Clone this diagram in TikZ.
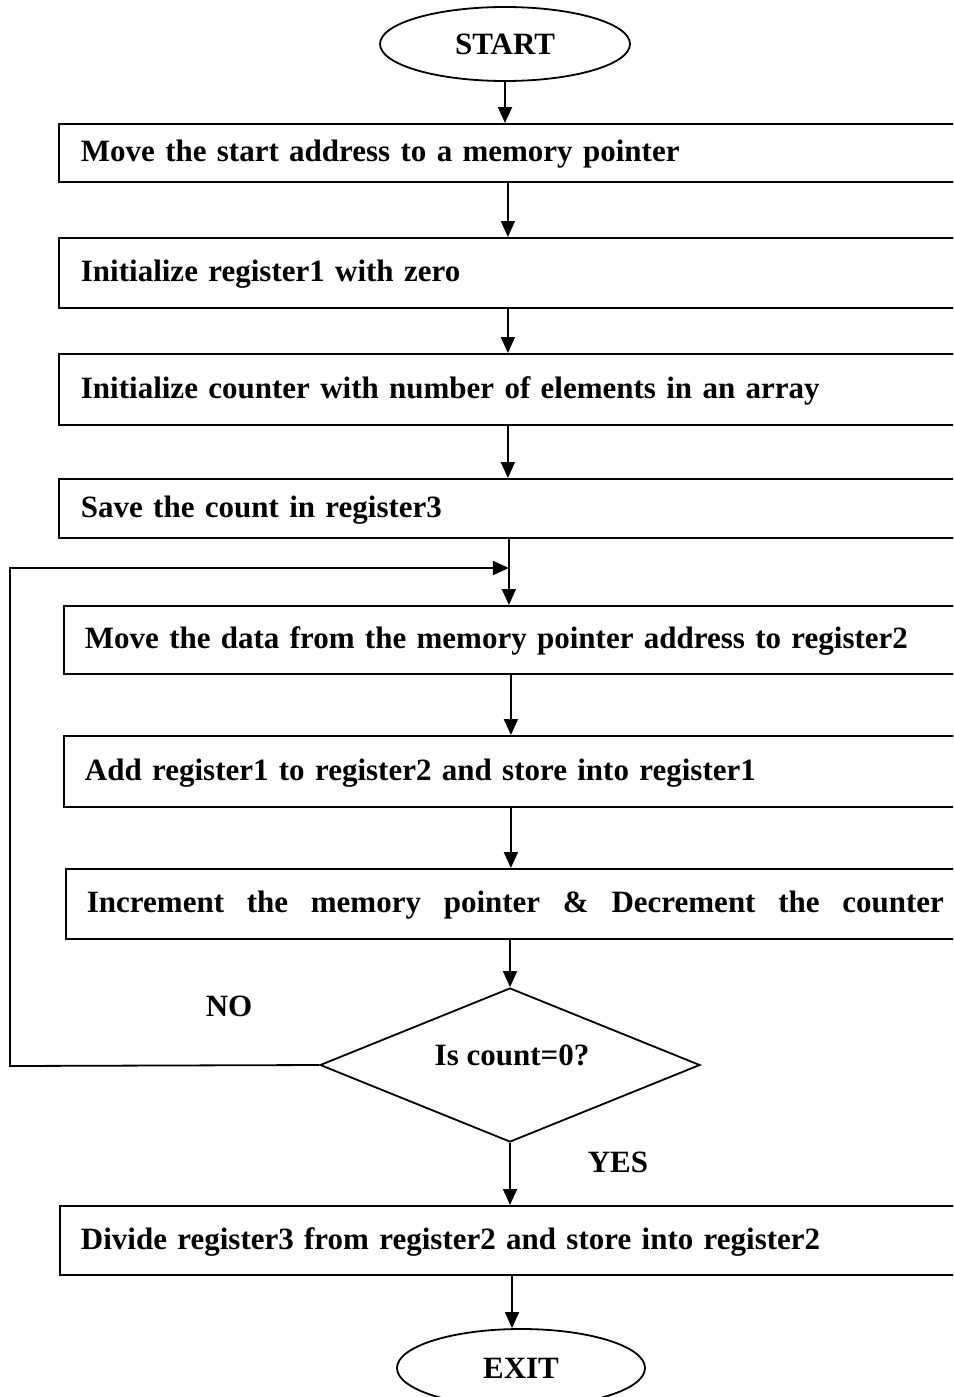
\documentclass[tikz,border=0pt]{standalone}
\usepackage{fontspec}
\setmainfont{Liberation Serif}
\usetikzlibrary{shapes.geometric,arrows.meta}
\begin{document}
\begin{tikzpicture}[x=1pt,y=-1pt,
  line width=1.8pt,
  font=\fontsize{31}{35}\selectfont\bfseries,
  term/.style={draw,ellipse,inner sep=0pt},
  stepbox/.style={draw,rectangle,anchor=north west,align=left,inner xsep=21pt,inner ysep=0pt,
                  text height=23pt,text depth=5pt},
  arr/.style={-{Triangle[length=16pt,width=14pt]}},
  lbl/.style={inner sep=0pt},
]
\useasboundingbox (0,0) rectangle (953,1397);
\clip (0,0) rectangle (953,1397);

% terminals
\node[term,minimum width=250pt,minimum height=74pt] (start) at (505,44) {START};
\node[term,minimum width=248pt,minimum height=78pt] (exit) at (521,1368) {EXIT};

% process steps
\node[stepbox,minimum height=58pt,text width=854pt,inner xsep=22pt] (b1) at (58,123)
  {Move the start address to a memory pointer};
\node[stepbox,minimum height=70pt,text width=854pt,inner xsep=22pt] (b2) at (58,237)
  {Initialize register1 with zero};
\node[stepbox,minimum height=71pt,text width=854pt,inner xsep=22pt] (b3) at (58,353)
  {Initialize counter with number of elements in an array};
\node[stepbox,minimum height=59pt,text width=856pt,inner xsep=22pt] (b4) at (58,478)
  {Save the count in register3};
\node[stepbox,minimum height=68pt,text width=852pt] (b5) at (63,605)
  {Move the data from the memory pointer address to register2};
\node[stepbox,minimum height=71pt,text width=852pt] (b6) at (63,735)
  {Add register1 to register2 and store into register1};
\node[stepbox,minimum height=70pt,text width=857pt] (b7) at (65,868)
  {\makebox[857pt][l]{Increment\hfill the\hfill memory\hfill pointer\hfill \&\hfill Decrement\hfill the\hfill counter}};
\node[stepbox,minimum height=69pt,text width=864pt] (b8) at (59,1205)
  {Divide register3 from register2 and store into register2};

% decision
\node[draw,diamond,aspect=2.47,minimum width=380pt,minimum height=154pt,inner sep=0pt] (dec) at (510,1065) {};
\node[lbl] (dectext) at (512,1055) {Is count=0?};
\node[lbl] (no) at (229,1006) {NO};
\node[lbl] (yes) at (618,1162) {YES};

% main flow
\draw[arr] (start.south) -- (start.south |- b1.north);
\draw[arr] (b1.south) -- (b1.south |- b2.north);
\draw[arr] (b2.south) -- (b2.south |- b3.north);
\draw[arr] (b3.south) -- (b3.south |- b4.north);
\draw[arr] (b4.south) -- (b4.south |- b5.north);
\draw[arr] (b5.south) -- (b5.south |- b6.north);
\draw[arr] (b6.south) -- (b6.south |- b7.north);
\draw[arr] (dec.north |- b7.south) -- (dec.north);
\draw[arr] (dec.south) -- (dec.south |- b8.north);
\draw[arr] (exit.north |- b8.south) ++(-9,0) coordinate (b8out) -- (b8out |- exit.north);

% loop back on NO
\coordinate (loopbot) at (10,1066);
\coordinate (looptop) at (10,568);
\draw[arr] (dec.west) -- (loopbot) -- (looptop) -- (b4.south |- looptop);
\end{tikzpicture}
\end{document}
